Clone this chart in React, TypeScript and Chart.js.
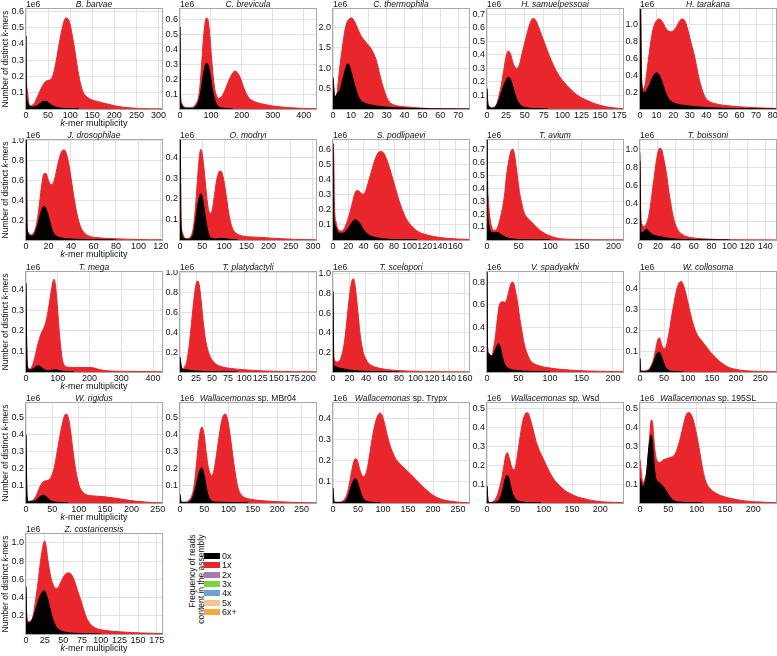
import React, { useEffect, useRef } from "react";
import { Chart, registerables } from "chart.js";

Chart.register(...registerables);

type Pair = [number, number];

// ---- k-mer spectra, values in millions of distinct k-mers ----
// "0x" = k-mers absent from the assembly (black), "1x" = present once (red envelope)

const barvae0x: Pair[] = [[0,0.45],[1,0.1],[3,0.05],[6,0.025],[10,0.015],[15,0.012],[20,0.015],[25,0.02],[30,0.03],[35,0.04],[40,0.047],[45,0.047],[50,0.04],[55,0.03],[60,0.02],[70,0.01],[80,0.005],[95,0.003],[120,0.001]];
const barvae1x: Pair[] = [[0,0.45],[1,0.17],[3,0.12],[6,0.04],[10,0.02],[15,0.025],[20,0.04],[25,0.07],[30,0.1],[35,0.13],[40,0.155],[45,0.17],[50,0.175],[55,0.18],[60,0.2],[65,0.25],[70,0.32],[75,0.4],[80,0.47],[85,0.53],[90,0.56],[95,0.555],[100,0.52],[105,0.45],[110,0.37],[115,0.28],[120,0.2],[125,0.14],[130,0.1],[140,0.07],[150,0.055],[160,0.048],[170,0.04],[185,0.03],[200,0.02],[220,0.011],[240,0.006],[260,0.003],[280,0.0015],[308,0.001]];

const brevicula0x: Pair[] = [[0,0.55],[2,0.06],[5,0.03],[10,0.012],[20,0.005],[40,0.005],[50,0.015],[60,0.05],[65,0.09],[70,0.15],[75,0.22],[80,0.28],[85,0.305],[90,0.3],[95,0.26],[100,0.2],[105,0.13],[110,0.08],[115,0.045],[120,0.025],[130,0.01],[145,0.004],[170,0.001]];
const brevicula1x: Pair[] = [[0,0.55],[2,0.08],[5,0.04],[10,0.02],[20,0.01],[30,0.008],[40,0.01],[50,0.03],[60,0.08],[65,0.16],[70,0.3],[75,0.45],[80,0.56],[85,0.61],[90,0.6],[95,0.53],[100,0.4],[105,0.27],[110,0.17],[115,0.11],[120,0.08],[125,0.07],[130,0.075],[140,0.1],[150,0.15],[160,0.2],[170,0.24],[178,0.255],[185,0.245],[195,0.21],[205,0.15],[215,0.1],[225,0.07],[240,0.05],[260,0.037],[280,0.028],[300,0.02],[330,0.013],[360,0.008],[400,0.004],[440,0.002]];

const thermophila0x: Pair[] = [[0,0.77],[1,0.28],[2,0.36],[3,0.42],[4,0.48],[5,0.65],[6,0.81],[7,0.98],[8,1.1],[9,1.08],[10,0.93],[11,0.77],[12,0.6],[13,0.46],[14,0.32],[15,0.24],[17,0.16],[20,0.11],[25,0.07],[30,0.045],[35,0.03],[40,0.02],[50,0.008],[60,0.003],[76,0.001]];
const thermophila1x: Pair[] = [[0,0.77],[1,0.3],[2,0.32],[3,0.7],[4,1.1],[5,1.43],[6,1.75],[7,2.0],[8,2.15],[9,2.2],[10,2.23],[11,2.22],[12,2.15],[13,2.05],[14,1.95],[15,1.85],[16,1.77],[17,1.71],[18,1.66],[19,1.6],[20,1.55],[21,1.5],[22,1.42],[23,1.33],[24,1.22],[25,1.05],[26,0.87],[27,0.69],[28,0.54],[29,0.4],[30,0.29],[31,0.2],[32,0.15],[34,0.1],[37,0.07],[40,0.055],[45,0.035],[50,0.02],[55,0.012],[60,0.007],[70,0.003],[76,0.002]];

const samuelpessoai0x: Pair[] = [[0,0.15],[1,0.04],[3,0.015],[6,0.006],[10,0.01],[13,0.03],[16,0.07],[19,0.12],[22,0.17],[25,0.21],[28,0.235],[31,0.22],[34,0.17],[37,0.11],[40,0.065],[44,0.03],[50,0.012],[60,0.004],[80,0.001]];
const samuelpessoai1x: Pair[] = [[0,0.15],[1,0.06],[3,0.02],[6,0.008],[10,0.015],[13,0.04],[16,0.1],[19,0.18],[22,0.28],[25,0.38],[28,0.43],[31,0.41],[34,0.35],[37,0.31],[40,0.3],[43,0.33],[46,0.4],[50,0.49],[54,0.58],[58,0.65],[61,0.67],[64,0.66],[68,0.61],[72,0.55],[76,0.49],[80,0.43],[85,0.36],[90,0.3],[95,0.25],[100,0.21],[110,0.15],[120,0.1],[130,0.07],[140,0.045],[150,0.027],[160,0.014],[170,0.007],[180,0.003]];

const tarakana0x: Pair[] = [[0,2.0],[1,0.3],[2,0.2],[3,0.2],[4,0.22],[5,0.26],[6,0.3],[7,0.35],[8,0.39],[9,0.42],[10,0.43],[11,0.42],[12,0.39],[13,0.34],[14,0.28],[15,0.22],[16,0.17],[17,0.13],[18,0.1],[20,0.075],[23,0.055],[26,0.045],[30,0.035],[35,0.025],[40,0.018],[50,0.008],[60,0.004],[82,0.001]];
const tarakana1x: Pair[] = [[0,2.0],[1,0.36],[2,0.24],[3,0.28],[4,0.42],[5,0.58],[6,0.73],[7,0.86],[8,0.96],[9,1.02],[10,1.05],[11,1.07],[12,1.07],[13,1.05],[14,1.02],[15,0.98],[16,0.95],[17,0.93],[18,0.92],[19,0.92],[20,0.93],[21,0.95],[22,0.98],[23,1.02],[24,1.05],[25,1.07],[26,1.07],[27,1.05],[28,1.0],[29,0.93],[30,0.85],[31,0.77],[32,0.7],[33,0.62],[34,0.52],[35,0.42],[36,0.33],[37,0.26],[38,0.2],[39,0.15],[40,0.12],[42,0.085],[45,0.065],[50,0.045],[55,0.035],[60,0.026],[70,0.014],[82,0.006]];

const drosophilae0x: Pair[] = [[0,2.0],[1,0.1],[3,0.05],[5,0.04],[7,0.05],[9,0.1],[11,0.18],[13,0.27],[15,0.33],[16,0.34],[18,0.31],[20,0.24],[22,0.15],[24,0.08],[27,0.04],[30,0.025],[35,0.015],[40,0.01],[50,0.005],[60,0.002],[80,0.001]];
const drosophilae1x: Pair[] = [[0,2.0],[1,0.14],[2,0.08],[4,0.05],[6,0.06],[8,0.1],[10,0.2],[12,0.37],[14,0.56],[16,0.67],[18,0.67],[20,0.6],[22,0.56],[24,0.57],[26,0.64],[28,0.75],[30,0.84],[32,0.9],[34,0.91],[36,0.87],[38,0.77],[40,0.63],[42,0.48],[44,0.34],[46,0.23],[48,0.15],[50,0.1],[53,0.06],[56,0.04],[60,0.028],[70,0.018],[80,0.012],[90,0.008],[100,0.005],[110,0.003],[121,0.002]];

const modryi0x: Pair[] = [[0,1.0],[2,0.1],[5,0.02],[10,0.006],[20,0.004],[25,0.01],[30,0.03],[35,0.09],[40,0.17],[44,0.21],[47,0.225],[50,0.21],[54,0.16],[58,0.1],[62,0.05],[66,0.02],[72,0.008],[80,0.005],[90,0.008],[100,0.007],[110,0.004],[130,0.001]];
const modryi1x: Pair[] = [[0,1.0],[2,0.13],[5,0.04],[10,0.012],[15,0.006],[20,0.008],[25,0.02],[30,0.06],[35,0.16],[40,0.31],[44,0.41],[47,0.44],[50,0.42],[54,0.35],[58,0.26],[62,0.18],[66,0.135],[70,0.13],[74,0.16],[78,0.22],[82,0.28],[86,0.32],[90,0.335],[94,0.33],[98,0.3],[102,0.25],[106,0.19],[110,0.13],[115,0.08],[120,0.05],[130,0.028],[145,0.018],[160,0.015],[180,0.013],[200,0.01],[230,0.006],[260,0.003],[307,0.001]];

const podlipaevi0x: Pair[] = [[0,0.64],[1,0.2],[2,0.12],[4,0.08],[6,0.055],[9,0.045],[12,0.045],[15,0.05],[18,0.065],[21,0.085],[24,0.11],[27,0.13],[29,0.135],[32,0.128],[35,0.11],[38,0.085],[41,0.062],[45,0.04],[50,0.025],[60,0.012],[70,0.006],[90,0.002],[110,0.001]];
const podlipaevi1x: Pair[] = [[0,0.64],[1,0.55],[2,0.22],[4,0.12],[6,0.08],[8,0.065],[10,0.06],[13,0.065],[16,0.09],[19,0.13],[22,0.18],[25,0.24],[28,0.3],[31,0.33],[34,0.325],[37,0.31],[40,0.305],[43,0.33],[46,0.38],[50,0.45],[54,0.52],[58,0.57],[62,0.59],[66,0.58],[70,0.54],[74,0.48],[78,0.41],[82,0.34],[86,0.27],[90,0.21],[95,0.15],[100,0.11],[110,0.06],[120,0.038],[130,0.025],[140,0.016],[150,0.011],[165,0.006],[178,0.004]];

const avium0x: Pair[] = [[0,1.0],[1,0.25],[2,0.15],[4,0.09],[6,0.065],[8,0.055],[11,0.055],[14,0.057],[17,0.057],[20,0.05],[23,0.04],[26,0.03],[30,0.02],[35,0.012],[40,0.008],[50,0.004],[70,0.002],[100,0.001]];
const avium1x: Pair[] = [[0,1.0],[1,0.45],[2,0.33],[4,0.2],[6,0.13],[8,0.09],[10,0.075],[13,0.075],[16,0.09],[19,0.13],[22,0.19],[25,0.26],[28,0.36],[31,0.5],[34,0.6],[37,0.67],[40,0.7],[43,0.67],[46,0.57],[49,0.45],[52,0.35],[55,0.28],[58,0.22],[62,0.18],[66,0.16],[70,0.14],[75,0.115],[80,0.09],[85,0.07],[90,0.055],[95,0.04],[100,0.03],[110,0.015],[120,0.008],[140,0.004],[170,0.002],[215,0.001]];

const boissoni0x: Pair[] = [[0,0.87],[1,0.1],[2,0.08],[4,0.09],[6,0.115],[7,0.12],[8,0.115],[10,0.095],[12,0.075],[15,0.055],[18,0.045],[22,0.038],[26,0.03],[30,0.022],[35,0.015],[40,0.01],[50,0.005],[70,0.002],[100,0.001]];
const boissoni1x: Pair[] = [[0,0.96],[1,0.25],[2,0.18],[4,0.15],[6,0.16],[8,0.2],[10,0.28],[12,0.4],[14,0.55],[16,0.7],[18,0.85],[20,0.96],[22,1.01],[24,1.0],[26,0.92],[28,0.82],[30,0.7],[32,0.55],[34,0.43],[36,0.31],[38,0.22],[40,0.16],[43,0.1],[46,0.07],[50,0.045],[55,0.03],[60,0.022],[70,0.013],[80,0.008],[100,0.004],[120,0.002],[152,0.001]];

const mega0x: Pair[] = [[0,0.43],[2,0.15],[4,0.03],[8,0.012],[15,0.01],[22,0.015],[28,0.022],[34,0.028],[40,0.03],[46,0.026],[52,0.018],[60,0.01],[70,0.007],[80,0.009],[90,0.011],[100,0.009],[110,0.005],[125,0.002],[150,0.001]];
const mega1x: Pair[] = [[0,0.43],[2,0.15],[5,0.03],[10,0.015],[15,0.018],[20,0.03],[25,0.055],[30,0.085],[35,0.12],[40,0.15],[45,0.175],[50,0.195],[55,0.21],[60,0.23],[65,0.26],[70,0.3],[75,0.35],[80,0.4],[85,0.44],[88,0.45],[92,0.43],[96,0.37],[100,0.29],[104,0.21],[108,0.14],[112,0.085],[116,0.05],[122,0.03],[130,0.024],[150,0.022],[175,0.022],[200,0.022],[215,0.019],[230,0.012],[250,0.007],[280,0.004],[320,0.003],[380,0.002],[428,0.001]];

const platydactyli0x: Pair[] = [[0,0.15],[2,0.05],[4,0.03],[7,0.025],[10,0.022],[15,0.017],[20,0.013],[25,0.01],[30,0.008],[40,0.005],[60,0.002],[90,0.001]];
const platydactyli1x: Pair[] = [[0,0.15],[2,0.06],[4,0.035],[6,0.04],[8,0.06],[10,0.09],[12,0.16],[14,0.25],[16,0.37],[18,0.5],[20,0.63],[22,0.75],[24,0.85],[26,0.91],[28,0.92],[30,0.88],[32,0.78],[34,0.65],[36,0.52],[38,0.41],[40,0.32],[43,0.23],[46,0.17],[50,0.12],[55,0.085],[60,0.065],[70,0.045],[80,0.035],[90,0.028],[100,0.022],[115,0.016],[130,0.011],[150,0.007],[175,0.004],[212,0.002]];

const scelopori0x: Pair[] = [[0,0.82],[1,0.07],[3,0.055],[6,0.045],[10,0.035],[15,0.027],[20,0.02],[25,0.015],[30,0.011],[40,0.006],[55,0.003],[80,0.001]];
const scelopori1x: Pair[] = [[0,0.82],[1,0.15],[3,0.11],[5,0.1],[7,0.11],[9,0.13],[11,0.18],[13,0.26],[15,0.38],[17,0.54],[19,0.7],[21,0.84],[23,0.93],[25,0.95],[27,0.87],[29,0.72],[31,0.54],[33,0.38],[35,0.27],[37,0.19],[40,0.13],[43,0.09],[47,0.065],[52,0.048],[58,0.035],[65,0.025],[75,0.017],[90,0.01],[110,0.006],[130,0.003],[165,0.001]];

const spadyakhi0x: Pair[] = [[0,1.0],[1,0.18],[3,0.16],[6,0.145],[9,0.15],[12,0.18],[15,0.22],[18,0.25],[20,0.24],[22,0.2],[24,0.15],[26,0.1],[28,0.07],[31,0.045],[35,0.03],[40,0.02],[50,0.012],[60,0.007],[80,0.003],[100,0.001]];
const spadyakhi1x: Pair[] = [[0,1.0],[1,0.22],[3,0.17],[5,0.15],[8,0.14],[10,0.2],[13,0.3],[16,0.45],[19,0.58],[22,0.62],[25,0.625],[28,0.62],[31,0.64],[34,0.7],[37,0.77],[40,0.8],[43,0.78],[46,0.7],[49,0.6],[52,0.48],[55,0.38],[58,0.28],[61,0.21],[64,0.16],[68,0.11],[73,0.08],[80,0.06],[90,0.045],[100,0.035],[120,0.022],[140,0.014],[160,0.009],[190,0.005],[216,0.003]];

const collosoma0x: Pair[] = [[0,0.065],[1,0.01],[3,0.003],[15,0.004],[20,0.01],[24,0.025],[28,0.045],[31,0.065],[34,0.082],[37,0.093],[40,0.095],[43,0.085],[46,0.065],[49,0.045],[52,0.028],[56,0.015],[62,0.006],[70,0.002],[90,0.001]];
const collosoma1x: Pair[] = [[0,0.065],[1,0.02],[3,0.005],[10,0.004],[15,0.008],[20,0.018],[24,0.035],[28,0.06],[31,0.09],[34,0.125],[37,0.155],[40,0.165],[43,0.15],[46,0.125],[50,0.112],[54,0.12],[58,0.16],[62,0.21],[66,0.27],[70,0.32],[74,0.37],[78,0.41],[82,0.43],[86,0.435],[90,0.42],[94,0.39],[98,0.35],[102,0.31],[106,0.27],[110,0.235],[115,0.2],[120,0.175],[125,0.16],[130,0.145],[135,0.13],[140,0.115],[145,0.1],[150,0.087],[160,0.064],[170,0.043],[180,0.028],[190,0.018],[200,0.012],[220,0.006],[250,0.003],[283,0.001]];

const rigidus0x: Pair[] = [[0,0.4],[2,0.04],[5,0.008],[12,0.008],[18,0.015],[23,0.028],[28,0.04],[32,0.045],[36,0.042],[40,0.032],[45,0.018],[50,0.009],[60,0.004],[80,0.001]];
const rigidus1x: Pair[] = [[0,0.4],[2,0.02],[6,0.01],[12,0.015],[18,0.035],[23,0.07],[28,0.105],[33,0.125],[38,0.13],[43,0.135],[48,0.155],[53,0.2],[58,0.28],[63,0.37],[68,0.45],[73,0.51],[77,0.52],[81,0.49],[85,0.41],[89,0.31],[93,0.22],[97,0.15],[101,0.1],[106,0.07],[112,0.052],[120,0.044],[135,0.04],[150,0.036],[165,0.03],[180,0.023],[195,0.016],[210,0.01],[225,0.006],[240,0.003],[258,0.001]];

const mbr040x: Pair[] = [[0,0.05],[2,0.008],[6,0.003],[18,0.005],[24,0.02],[29,0.055],[33,0.1],[37,0.15],[41,0.19],[44,0.205],[47,0.195],[50,0.16],[53,0.11],[56,0.065],[60,0.03],[65,0.012],[75,0.005],[90,0.004],[110,0.002],[140,0.001]];
const mbr041x: Pair[] = [[0,0.05],[2,0.015],[6,0.005],[12,0.005],[18,0.015],[24,0.04],[29,0.1],[33,0.2],[37,0.32],[41,0.41],[45,0.445],[49,0.41],[53,0.32],[57,0.23],[61,0.18],[65,0.16],[69,0.18],[73,0.24],[77,0.32],[81,0.4],[85,0.47],[89,0.51],[93,0.52],[97,0.5],[101,0.44],[105,0.36],[109,0.27],[113,0.19],[117,0.12],[121,0.075],[126,0.048],[133,0.032],[145,0.022],[160,0.016],[180,0.011],[200,0.008],[230,0.004],[260,0.002],[280,0.001]];

const trypx0x: Pair[] = [[0,0.07],[2,0.005],[8,0.002],[20,0.004],[26,0.012],[30,0.03],[34,0.06],[38,0.09],[42,0.11],[45,0.115],[48,0.105],[52,0.075],[56,0.045],[60,0.022],[66,0.009],[75,0.004],[95,0.001]];
const trypx1x: Pair[] = [[0,0.07],[2,0.01],[6,0.004],[15,0.005],[22,0.015],[27,0.035],[31,0.07],[35,0.12],[39,0.17],[43,0.205],[46,0.21],[50,0.19],[54,0.155],[58,0.13],[62,0.125],[66,0.14],[70,0.18],[74,0.24],[78,0.3],[82,0.35],[86,0.39],[90,0.415],[94,0.425],[98,0.415],[102,0.385],[106,0.345],[110,0.305],[115,0.265],[120,0.235],[125,0.21],[132,0.19],[140,0.17],[150,0.148],[160,0.125],[170,0.1],[180,0.077],[190,0.055],[200,0.037],[210,0.024],[220,0.015],[235,0.008],[250,0.004],[272,0.001]];

const wsd0x: Pair[] = [[0,0.09],[2,0.008],[6,0.002],[15,0.004],[21,0.015],[25,0.04],[29,0.085],[32,0.125],[35,0.145],[38,0.135],[41,0.1],[44,0.06],[48,0.03],[53,0.013],[60,0.006],[75,0.002],[95,0.001]];
const wsd1x: Pair[] = [[0,0.09],[2,0.01],[6,0.003],[12,0.01],[18,0.04],[22,0.08],[26,0.13],[30,0.2],[33,0.25],[36,0.265],[39,0.24],[42,0.205],[45,0.18],[48,0.175],[51,0.2],[54,0.26],[57,0.32],[60,0.38],[63,0.43],[66,0.46],[69,0.475],[72,0.475],[75,0.455],[78,0.425],[82,0.38],[86,0.33],[90,0.295],[95,0.26],[100,0.228],[106,0.19],[112,0.155],[118,0.125],[125,0.1],[132,0.08],[140,0.06],[150,0.045],[160,0.032],[175,0.02],[190,0.011],[210,0.005],[240,0.002]];

const sl1950x: Pair[] = [[0,0.13],[1,0.12],[3,0.1],[6,0.09],[9,0.11],[12,0.17],[14,0.24],[16,0.3],[18,0.34],[20,0.36],[22,0.32],[24,0.24],[26,0.17],[28,0.13],[31,0.115],[35,0.105],[40,0.09],[45,0.07],[50,0.045],[55,0.025],[60,0.012],[70,0.005],[85,0.002],[110,0.001]];
const sl1951x: Pair[] = [[0,0.23],[2,0.17],[4,0.12],[6,0.11],[9,0.13],[12,0.17],[14,0.24],[16,0.32],[18,0.39],[20,0.44],[22,0.43],[24,0.36],[26,0.29],[28,0.245],[31,0.22],[34,0.215],[38,0.22],[42,0.23],[47,0.235],[52,0.24],[57,0.245],[62,0.26],[66,0.29],[70,0.33],[74,0.38],[78,0.43],[82,0.47],[86,0.48],[90,0.47],[94,0.44],[98,0.39],[102,0.33],[106,0.26],[110,0.19],[114,0.135],[118,0.1],[124,0.075],[132,0.055],[142,0.04],[155,0.028],[170,0.018],[185,0.011],[200,0.007],[220,0.004],[240,0.002]];

const costaricensis0x: Pair[] = [[0,0.52],[1,0.15],[3,0.12],[6,0.13],[9,0.17],[12,0.24],[15,0.32],[18,0.4],[21,0.45],[24,0.475],[27,0.44],[30,0.35],[33,0.25],[36,0.16],[39,0.1],[43,0.055],[48,0.03],[55,0.016],[65,0.008],[80,0.003],[100,0.001]];
const costaricensis1x: Pair[] = [[0,0.52],[1,0.22],[3,0.14],[5,0.135],[7,0.15],[9,0.18],[11,0.27],[13,0.38],[15,0.5],[17,0.63],[19,0.77],[21,0.89],[23,0.98],[25,1.02],[27,0.96],[29,0.83],[31,0.72],[33,0.63],[35,0.57],[37,0.53],[40,0.5],[43,0.51],[46,0.56],[49,0.61],[52,0.65],[55,0.67],[58,0.67],[61,0.65],[64,0.6],[67,0.53],[70,0.45],[73,0.38],[76,0.3],[79,0.22],[82,0.16],[86,0.11],[90,0.08],[96,0.055],[105,0.04],[115,0.03],[130,0.022],[145,0.015],[160,0.01],[182,0.005]];

type Seg = [string, boolean];
interface PanelSpec {
  title: Seg[];
  xMax: number;
  xStep: number;
  yMax: number;
  yStep: number;
  k0: Pair[];
  k1: Pair[];
}

const panels: PanelSpec[] = [
  { title: [["B. barvae", true]], xMax: 308, xStep: 50, yMax: 0.615, yStep: 0.1, k0: barvae0x, k1: barvae1x },
  { title: [["C. brevicula", true]], xMax: 440, xStep: 100, yMax: 0.67, yStep: 0.1, k0: brevicula0x, k1: brevicula1x },
  { title: [["C. thermophila", true]], xMax: 76, xStep: 10, yMax: 2.45, yStep: 0.5, k0: thermophila0x, k1: thermophila1x },
  { title: [["H. samuelpessoai", true]], xMax: 180, xStep: 25, yMax: 0.74, yStep: 0.1, k0: samuelpessoai0x, k1: samuelpessoai1x },
  { title: [["H. tarakana", true]], xMax: 82, xStep: 10, yMax: 1.19, yStep: 0.2, k0: tarakana0x, k1: tarakana1x },
  { title: [["J. drosophilae", true]], xMax: 121, xStep: 20, yMax: 1.01, yStep: 0.2, k0: drosophilae0x, k1: drosophilae1x },
  { title: [["O. modryi", true]], xMax: 307, xStep: 50, yMax: 0.485, yStep: 0.1, k0: modryi0x, k1: modryi1x },
  { title: [["S. podlipaevi", true]], xMax: 178, xStep: 20, yMax: 0.665, yStep: 0.1, k0: podlipaevi0x, k1: podlipaevi1x },
  { title: [["T. avium", true]], xMax: 215, xStep: 50, yMax: 0.77, yStep: 0.1, k0: avium0x, k1: avium1x },
  { title: [["T. boissoni", true]], xMax: 152, xStep: 20, yMax: 1.1, yStep: 0.2, k0: boissoni0x, k1: boissoni1x },
  { title: [["T. mega", true]], xMax: 428, xStep: 100, yMax: 0.485, yStep: 0.1, k0: mega0x, k1: mega1x },
  { title: [["T. platydactyli", true]], xMax: 212, xStep: 25, yMax: 1.01, yStep: 0.2, k0: platydactyli0x, k1: platydactyli1x },
  { title: [["T. scelopori", true]], xMax: 165, xStep: 20, yMax: 1.02, yStep: 0.2, k0: scelopori0x, k1: scelopori1x },
  { title: [["V. spadyakhi", true]], xMax: 216, xStep: 50, yMax: 0.89, yStep: 0.1, k0: spadyakhi0x, k1: spadyakhi1x },
  { title: [["W. collosoma", true]], xMax: 283, xStep: 50, yMax: 0.48, yStep: 0.1, k0: collosoma0x, k1: collosoma1x },
  { title: [["W. rigidus", true]], xMax: 258, xStep: 50, yMax: 0.585, yStep: 0.1, k0: rigidus0x, k1: rigidus1x },
  { title: [["Wallacemonas", true], [" sp. MBr04", false]], xMax: 280, xStep: 50, yMax: 0.585, yStep: 0.1, k0: mbr040x, k1: mbr041x },
  { title: [["Wallacemonas", true], [" sp. Trypx", false]], xMax: 272, xStep: 50, yMax: 0.472, yStep: 0.1, k0: trypx0x, k1: trypx1x },
  { title: [["Wallacemonas", true], [" sp. Wsd", false]], xMax: 240, xStep: 50, yMax: 0.527, yStep: 0.1, k0: wsd0x, k1: wsd1x },
  { title: [["Wallacemonas", true], [" sp. 195SL", false]], xMax: 240, xStep: 50, yMax: 0.53, yStep: 0.1, k0: sl1950x, k1: sl1951x },
  { title: [["Z. costaricensis", true]], xMax: 182, xStep: 25, yMax: 1.097, yStep: 0.2, k0: costaricensis0x, k1: costaricensis1x },
];

const legendLabels = ["0x", "1x", "2x", "3x", "4x", "5x", "6x+"];
const legendColors = ["#000000", "#e8262b", "#a57cae", "#7fd33a", "#6f9ed8", "#f3c48e", "#f6a83a"];

// ---- layout ----
const FONT = '"Liberation Sans", Arial, Helvetica, sans-serif';
const COL_LEFT = [26, 180, 333, 487, 640];
const ROW_TOP = [9, 140, 272, 403, 534];
const PLOT_W = 136;
const PLOT_H = 100;
const PAD_L = 24;
const PAD_T = 2;
const PAD_B = 14;

const framePlugin = {
  id: "frameBox",
  afterDatasetsDraw(chart: any) {
    const { ctx, chartArea: a } = chart;
    ctx.save();
    ctx.strokeStyle = "#a8a8a8";
    ctx.lineWidth = 1;
    ctx.strokeRect(a.left - 0.5, a.top - 0.5, a.right - a.left + 1, a.bottom - a.top + 1);
    ctx.restore();
  },
};

function KmerPanel({ spec, col, row }: { spec: PanelSpec; col: number; row: number }) {
  const ref = useRef<HTMLCanvasElement | null>(null);
  const padR = col === 4 ? 1 : 6;
  const w = PAD_L + PLOT_W + padR;
  const h = PAD_T + PLOT_H + PAD_B;
  const left = COL_LEFT[col] - PAD_L;
  const top = ROW_TOP[row] - PAD_T;

  useEffect(() => {
    const canvas = ref.current;
    if (!canvas) return;
    const toXY = (arr: Pair[]) => arr.map(([x, y]) => ({ x, y }));
    const tickFont = { family: FONT, size: 9 };
    const clipBox = { left: 1, top: 0, right: 0, bottom: 0 };
    const chart = new Chart(canvas, {
      type: "line",
      data: {
        datasets: [
          {
            label: "0x",
            data: toXY(spec.k0),
            borderColor: "#000000",
            backgroundColor: "#000000",
            fill: "origin",
            borderWidth: 1,
            pointRadius: 0,
            cubicInterpolationMode: "monotone",
            clip: clipBox,
          },
          {
            label: "1x",
            data: toXY(spec.k1),
            borderColor: "#e8262b",
            backgroundColor: "#e8262b",
            fill: "origin",
            borderWidth: 1,
            pointRadius: 0,
            cubicInterpolationMode: "monotone",
            clip: clipBox,
          },
        ],
      } as any,
      options: {
        animation: false,
        responsive: false,
        maintainAspectRatio: false,
        devicePixelRatio: 1,
        events: [],
        layout: { padding: { left: 0, top: PAD_T, right: padR, bottom: 0 } },
        plugins: { legend: { display: false }, tooltip: { enabled: false }, title: { display: false } },
        scales: {
          x: {
            type: "linear",
            min: 0,
            max: spec.xMax,
            afterFit: (s: any) => {
              s.height = PAD_B;
              s.paddingLeft = 0;
              s.paddingRight = 0;
            },
            ticks: {
              stepSize: spec.xStep,
              includeBounds: false,
              autoSkip: false,
              maxRotation: 0,
              minRotation: 0,
              padding: 1,
              color: "#111111",
              font: tickFont,
              callback: (v: any) => String(Math.round(Number(v))),
            },
            grid: { color: "#e2e2e2", drawTicks: false, lineWidth: 1 },
            border: { display: false },
          },
          y: {
            type: "linear",
            min: 0,
            max: spec.yMax,
            afterFit: (s: any) => {
              s.width = PAD_L;
              s.paddingTop = 0;
              s.paddingBottom = 0;
            },
            ticks: {
              stepSize: spec.yStep,
              includeBounds: false,
              padding: 2,
              color: "#111111",
              font: tickFont,
              callback: (v: any) => {
                const n = Number(v);
                return Math.abs(n) < 1e-9 ? "" : (Math.round(n * 10) / 10).toFixed(1);
              },
            },
            grid: { color: "#e2e2e2", drawTicks: false, lineWidth: 1 },
            border: { display: false },
          },
        },
      } as any,
      plugins: [framePlugin],
    });
    return () => chart.destroy();
  }, [spec, padR]);

  return (
    <canvas
      ref={ref}
      width={w}
      height={h}
      style={{ position: "absolute", left, top, width: w, height: h }}
    />
  );
}

export default function App() {
  return (
    <div
      style={{
        position: "absolute",
        left: 0,
        top: 0,
        width: 777,
        height: 656,
        overflow: "hidden",
        background: "#ffffff",
        fontFamily: FONT,
        color: "#111111",
      }}
    >
      {panels.map((p, i) => {
        const col = i % 5;
        const row = Math.floor(i / 5);
        const L = COL_LEFT[col];
        const T = ROW_TOP[row];
        return (
          <React.Fragment key={i}>
            <KmerPanel spec={p} col={col} row={row} />
            <div style={{ position: "absolute", left: L, top: T - 10, fontSize: 8.5, lineHeight: "10px" }}>1e6</div>
            <div
              style={{
                position: "absolute",
                left: L,
                top: T - 10,
                width: PLOT_W,
                textAlign: "center",
                fontSize: 8.5,
                lineHeight: "10px",
                whiteSpace: "pre",
              }}
            >
              {p.title.map(([t, it], j) => (
                <span key={j} style={{ fontStyle: it ? "italic" : "normal" }}>{t}</span>
              ))}
            </div>
          </React.Fragment>
        );
      })}

      {ROW_TOP.map((T, r) => (
        <React.Fragment key={"ax" + r}>
          <div
            style={{
              position: "absolute",
              left: 5 - 60,
              top: T + PLOT_H / 2 - 5,
              width: 120,
              height: 10,
              lineHeight: "10px",
              fontSize: 8.5,
              textAlign: "center",
              whiteSpace: "nowrap",
              transform: "rotate(-90deg)",
            }}
          >
            Number of distinct <i>k</i>-mers
          </div>
          <div
            style={{
              position: "absolute",
              left: COL_LEFT[0],
              top: T + PLOT_H + 9,
              width: PLOT_W,
              lineHeight: "10px",
              fontSize: 9,
              textAlign: "center",
              whiteSpace: "nowrap",
            }}
          >
            <i>k</i>-mer multiplicity
          </div>
        </React.Fragment>
      ))}

      <div
        style={{
          position: "absolute",
          left: 196 - 50,
          top: 584 - 8.5,
          width: 100,
          height: 17,
          fontSize: 8.5,
          lineHeight: "8.5px",
          textAlign: "right",
          whiteSpace: "pre",
          transform: "rotate(-90deg)",
        }}
      >
        {"Frequency of reads\ncontent in the assembly"}
      </div>
      {legendLabels.map((lab, i) => {
        const yc = 556 + 9.3 * i;
        return (
          <React.Fragment key={lab}>
            <div
              style={{
                position: "absolute",
                left: 204,
                top: Math.round(yc - 3),
                width: 16,
                height: 6,
                background: legendColors[i],
              }}
            />
            <div
              style={{
                position: "absolute",
                left: 222,
                top: Math.round(yc - 5),
                fontSize: 9,
                lineHeight: "10px",
              }}
            >
              {lab}
            </div>
          </React.Fragment>
        );
      })}
    </div>
  );
}
